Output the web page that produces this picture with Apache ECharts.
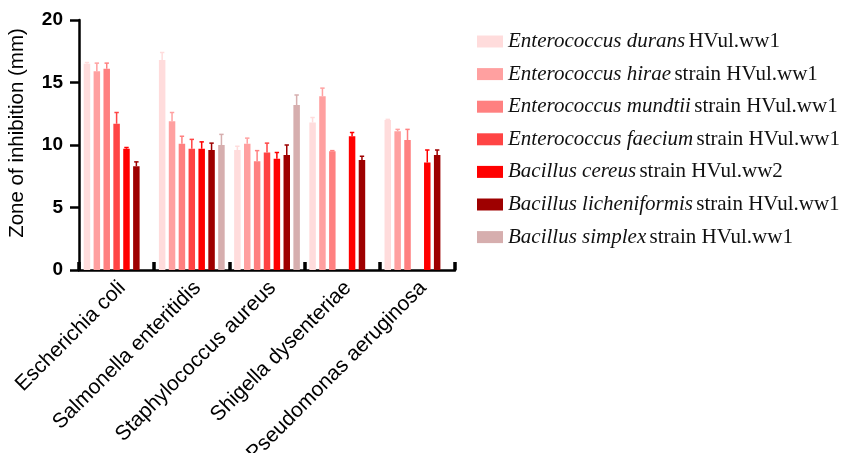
<!DOCTYPE html>
<html>
<head>
<meta charset="utf-8">
<script src="https://cdn.jsdelivr.net/npm/echarts@6/dist/echarts.min.js"></script>
<style>
html,body{margin:0;padding:0;background:#fff;}
#main{width:842px;height:453px;}
</style>
</head>
<body>
<div id="main"></div>
<script>
// ---- data ----
var categories = ['Escherichia coli', 'Salmonella enteritidis', 'Staphylococcus aureus', 'Shigella dysenteriae', 'Pseudomonas aeruginosa'];
var speciesNames = ['Enterococcus durans', 'Enterococcus hirae', 'Enterococcus mundtii', 'Enterococcus faecium', 'Bacillus cereus', 'Bacillus licheniformis', 'Bacillus simplex'];
var strainLabels = ['HVul.ww1', 'strain HVul.ww1', 'strain HVul.ww1', 'strain HVul.ww1', 'strain HVul.ww2', 'strain HVul.ww1', 'strain HVul.ww1'];
var yTicks = [0, 5, 10, 15, 20];

var durans        = [16.5, 16.8, 9.6, 11.8, 12.0];
var hirae         = [15.9, 11.9, 10.1, 13.9, 11.1];
var mundtii       = [16.1, 10.1, 8.7, 9.5, 10.4];
var faecium       = [11.7, 9.7, 9.4, null, null];
var cereus        = [9.7, 9.7, 8.9, 10.7, 8.6];
var licheniformis = [8.3, 9.6, 9.2, 8.8, 9.2];
var simplex       = [null, 10.0, 13.2, null, null];

var duransErr        = [0.1, 0.6, 0.3, 0.4, 0.05];
var hiraeErr         = [0.65, 0.7, 0.45, 0.65, 0.15];
var mundtiiErr       = [0.45, 0.6, 0.85, 0.05, 0.85];
var faeciumErr       = [0.9, 0.75, 0.75, null, null];
var cereusErr        = [0.1, 0.55, 0.5, 0.3, 1.0];
var licheniformisErr = [0.35, 0.55, 0.8, 0.3, 0.4];
var simplexErr       = [null, 0.85, 0.8, null, null];

// ---- styling ----
var colors = ['#FFDCDC', '#FFA0A0', '#FF8080', '#FF4444', '#FF0000', '#9E0000', '#D6AEAE'];
var BAR_W = 6.5, GAP = 0.52;

var values = [durans, hirae, mundtii, faecium, cereus, licheniformis, simplex];
var errors = [duransErr, hiraeErr, mundtiiErr, faeciumErr, cereusErr, licheniformisErr, simplexErr];
var seriesNames = speciesNames.map(function (s, i) { return s + ' ' + strainLabels[i]; });

var series = [];
values.forEach(function (vals, i) {
  series.push({
    name: seriesNames[i],
    type: 'bar',
    data: vals.map(function (v) { return v == null ? '-' : v; }),
    barWidth: BAR_W,
    barGap: (GAP * 100) + '%',
    itemStyle: { color: colors[i] },
    z: 2
  });
});
values.forEach(function (vals, i) {
  var n = values.length;
  var data = [];
  vals.forEach(function (v, c) {
    if (v != null && errors[i][c] != null) data.push([c, v, errors[i][c]]);
  });
  series.push({
    type: 'custom',
    name: seriesNames[i] + ' err',
    data: data,
    encode: { x: 0, y: 1 },
    z: 3,
    silent: true,
    renderItem: function (params, api) {
      var c = api.value(0), v = api.value(1), e = api.value(2);
      var off = (i - (n - 1) / 2) * BAR_W * (1 + GAP);
      var p0 = api.coord([c, v]);
      var p1 = api.coord([c, v + e]);
      var x = p0[0] + off;
      var capW = 2.2;
      var st = { stroke: colors[i], lineWidth: 1.5 };
      return {
        type: 'group',
        children: [
          { type: 'line', shape: { x1: x, y1: p0[1], x2: x, y2: p1[1] }, style: st },
          { type: 'line', shape: { x1: x - capW, y1: p1[1], x2: x + capW, y2: p1[1] }, style: st }
        ]
      };
    }
  });
});

var chart = echarts.init(document.getElementById('main'));
chart.setOption({
  animation: false,
  backgroundColor: '#fff',
  grid: { left: 79, right: 387, top: 20, bottom: 183, containLabel: false, outerBoundsMode: 'none' },
  legend: {
    orient: 'vertical',
    left: 472,
    top: 26,
    itemWidth: 26,
    itemHeight: 12,
    itemGap: 11.6,
    icon: 'rect',
    data: seriesNames,
    formatter: function (name) {
      var i = seriesNames.indexOf(name);
      return '{i|' + speciesNames[i] + '} {n|' + strainLabels[i] + '}';
    },
    textStyle: {
      color: '#000',
      rich: {
        i: { fontFamily: 'Liberation Serif', fontStyle: 'italic', fontSize: 21, lineHeight: 22, color: '#111' },
        n: { fontFamily: 'Liberation Serif', fontSize: 21, lineHeight: 22, color: '#111' }
      }
    }
  },
  xAxis: {
    type: 'category',
    data: categories,
    boundaryGap: true,
    axisLine: { lineStyle: { color: '#000', width: 2.5 } },
    axisTick: { show: true, inside: true, length: 8, lineStyle: { color: '#000', width: 3.5 } },
    axisLabel: {
      rotate: 45,
      interval: 0,
      margin: 9,
      verticalAlign: 'top',
      lineHeight: 16,
      color: '#000',
      fontFamily: 'Liberation Sans',
      fontSize: 21
    }
  },
  yAxis: {
    type: 'value',
    min: yTicks[0],
    max: yTicks[yTicks.length - 1],
    interval: 5,
    name: 'Zone of inhibition (mm)',
    nameLocation: 'middle',
    nameRotate: 90,
    nameGap: 51,
    nameTextStyle: { fontFamily: 'Liberation Sans', fontSize: 20.5, color: '#000', padding: [0, 0, 0, 24] },
    axisLine: { show: true, lineStyle: { color: '#000', width: 2.5 } },
    axisTick: { show: true, length: 9, lineStyle: { color: '#000', width: 2.5 } },
    splitLine: { show: false },
    axisLabel: {
      margin: 16,
      color: '#000',
      fontFamily: 'Liberation Sans',
      fontWeight: 'bold',
      fontSize: 19
    }
  },
  series: series
});
</script>
</body>
</html>
